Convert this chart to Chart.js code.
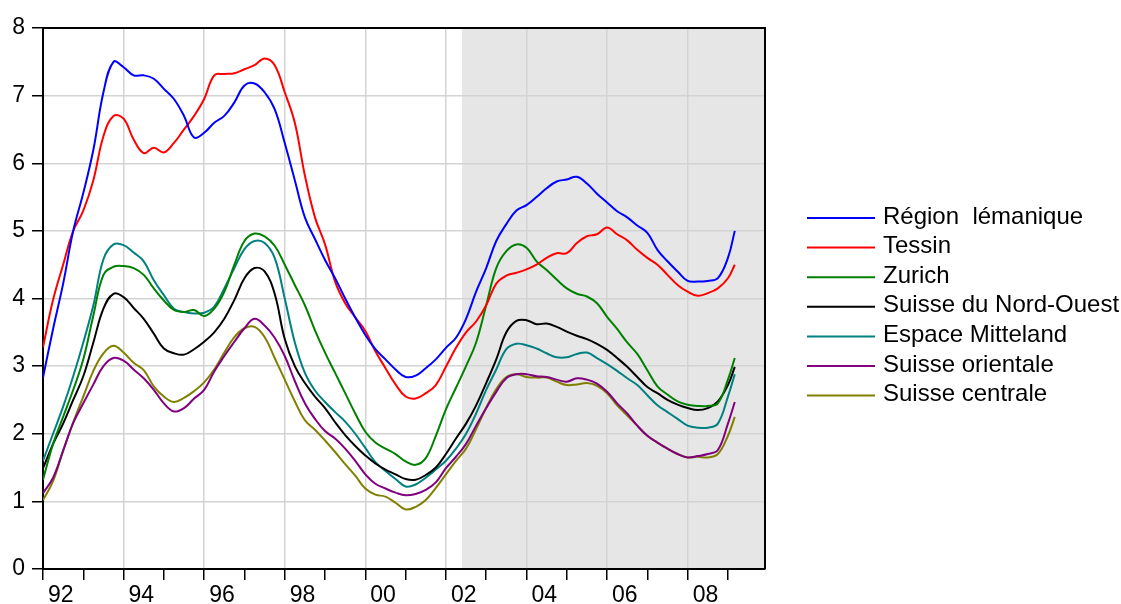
<!DOCTYPE html>
<html>
<head>
<meta charset="utf-8">
<script src="https://cdn.jsdelivr.net/npm/chart.js@4/dist/chart.umd.min.js"></script>
<style>
  html, body { margin: 0; padding: 0; background: #fff; }
  #wrap { width: 1121px; height: 604px; position: relative; }
</style>
</head>
<body>
<div id="wrap"><canvas id="chart"></canvas></div>
<script>
/* ---------- Data ---------- */
// quarterly observations, 1992Q1 .. 2009Q1, plus the last reading
const dates = Array.from({ length: 69 }, (_, i) => 1992 + i / 4).concat([2009.17]);

const regions = ["Région  lémanique", "Tessin", "Zurich", "Suisse du Nord-Ouest",
                 "Espace Mitteland", "Suisse orientale", "Suisse centrale"];
const colors = ["#0000ff", "#ff0000", "#008000", "#000000", "#008080", "#800080", "#808000"];

const lemanique = [2.83,3.55,4.22,5.0,5.56,6.2,7.05,7.5,7.42,7.3, 7.3,7.25,7.1,6.95,6.7,6.38,6.45,6.6,6.7,6.9,
  7.15,7.18,7.05,6.8,6.3,5.75,5.2,4.88,4.57,4.3, 4.0,3.72,3.46,3.25,3.1,2.95,2.84,2.86,2.97,3.1,
  3.27,3.42,3.7,4.1,4.45,4.85,5.1,5.3,5.38,5.5, 5.63,5.73,5.76,5.8,5.7,5.55,5.42,5.29,5.2,5.08,
  4.97,4.72,4.55,4.4,4.26,4.25,4.26,4.3,4.6,5.0];
const tessin = [3.28,3.98,4.5,5.0,5.3,5.75,6.4,6.7,6.66,6.35, 6.15,6.23,6.16,6.3,6.5,6.7,6.95,7.3,7.32,7.33,
  7.39,7.45,7.55,7.45,7.05,6.6,5.82,5.2,4.8,4.25, 3.93,3.72,3.52,3.22,2.97,2.73,2.55,2.52,2.6,2.72,
  2.99,3.27,3.5,3.66,3.9,4.22,4.34,4.38,4.43,4.5, 4.6,4.67,4.67,4.82,4.92,4.95,5.05,4.95,4.86,4.72,
  4.6,4.5,4.35,4.2,4.1,4.04,4.08,4.15,4.3,4.5];
const zurich = [1.32,1.85,2.25,2.65,3.1,3.75,4.35,4.47,4.48,4.45, 4.35,4.15,3.97,3.83,3.8,3.83,3.74,3.85,4.1,4.5,
  4.85,4.96,4.92,4.78,4.5,4.2,3.9,3.53,3.2,2.9, 2.6,2.3,2.03,1.87,1.78,1.7,1.59,1.54,1.64,1.97,
  2.36,2.68,3.0,3.35,3.9,4.45,4.7,4.8,4.75,4.55, 4.42,4.28,4.15,4.07,4.03,3.93,3.73,3.55,3.35,3.18,
  2.94,2.7,2.58,2.48,2.43,2.41,2.41,2.45,2.8,3.12];
const nordOuest = [1.49,1.85,2.15,2.5,2.85,3.35,3.85,4.07,4.02,3.86, 3.7,3.48,3.26,3.19,3.17,3.25,3.36,3.5,3.7,3.98,
  4.3,4.45,4.4,4.07,3.4,3.0,2.75,2.55,2.38,2.17, 1.98,1.82,1.68,1.56,1.47,1.4,1.33,1.32,1.39,1.5,
  1.7,1.93,2.15,2.42,2.75,3.1,3.5,3.67,3.68,3.62, 3.63,3.58,3.51,3.45,3.4,3.33,3.24,3.12,2.99,2.84,
  2.69,2.6,2.5,2.43,2.38,2.35,2.38,2.48,2.72,2.99];
const mitteland = [1.6,2.0,2.4,2.85,3.35,3.9,4.58,4.8,4.79,4.68, 4.55,4.27,4.05,3.85,3.8,3.78,3.79,3.88,4.15,4.45,
  4.73,4.85,4.82,4.6,4.0,3.35,2.9,2.64,2.47,2.32, 2.18,2.0,1.79,1.58,1.45,1.33,1.22,1.25,1.35,1.47,
  1.6,1.78,2.0,2.3,2.65,2.95,3.25,3.33,3.31,3.26, 3.19,3.13,3.13,3.18,3.2,3.12,3.03,2.93,2.82,2.72,
  2.57,2.42,2.32,2.22,2.12,2.09,2.09,2.15,2.55,2.88];
const orientale = [1.12,1.35,1.75,2.16,2.45,2.73,3.0,3.12,3.08,2.95, 2.82,2.65,2.45,2.33,2.38,2.52,2.65,2.92,3.15,3.36,
  3.56,3.7,3.6,3.42,3.15,2.78,2.45,2.22,2.04,1.93, 1.78,1.6,1.4,1.26,1.19,1.13,1.09,1.11,1.17,1.28,
  1.49,1.66,1.85,2.12,2.38,2.62,2.82,2.88,2.88,2.85, 2.84,2.8,2.77,2.82,2.8,2.74,2.62,2.45,2.3,2.12,
  1.97,1.87,1.78,1.7,1.65,1.67,1.7,1.76,2.15,2.47];
const centrale = [1.02,1.3,1.75,2.17,2.55,2.93,3.19,3.3,3.2,3.05, 2.94,2.7,2.55,2.47,2.53,2.63,2.76,2.95,3.2,3.43,
  3.56,3.58,3.43,3.12,2.8,2.48,2.2,2.06,1.9,1.73, 1.55,1.38,1.19,1.1,1.07,0.98,0.88,0.92,1.02,1.2,
  1.4,1.6,1.78,2.07,2.38,2.66,2.84,2.88,2.84,2.83, 2.83,2.77,2.72,2.73,2.75,2.71,2.6,2.42,2.27,2.12,
  1.97,1.87,1.78,1.7,1.65,1.66,1.65,1.7,1.97,2.25];

const series = [lemanique, tessin, zurich, nordOuest, mitteland, orientale, centrale];
const shadeFrom = 2002.4;

/* ---------- Plugins ---------- */
const FONT = "'Liberation Sans', Arial, sans-serif";

// grey band behind the grid, from shadeFrom to the right edge
const shade = {
  id: "shade",
  beforeDraw(chart) {
    const { ctx, chartArea: a, scales: { x } } = chart;
    const x0 = x.getPixelForValue(shadeFrom);
    ctx.save();
    ctx.fillStyle = "#e6e6e6";
    ctx.fillRect(x0, a.top, a.right - x0, a.bottom - a.top);
    ctx.restore();
  }
};

// top and right sides of the plot box + legend on the right
const frameAndLegend = {
  id: "frameAndLegend",
  afterDraw(chart) {
    const { ctx, chartArea: a } = chart;
    ctx.save();
    ctx.strokeStyle = "#000";
    ctx.lineWidth = 2;
    ctx.beginPath();
    ctx.moveTo(a.left, a.top);
    ctx.lineTo(a.right, a.top);
    ctx.lineTo(a.right, a.bottom);
    ctx.stroke();

    ctx.font = "24px " + FONT;
    ctx.textBaseline = "middle";
    ctx.fillStyle = "#000";
    chart.data.datasets.forEach((ds, i) => {
      const y = 218 + i * 29.6;
      ctx.strokeStyle = ds.borderColor;
      ctx.lineWidth = 2;
      ctx.beginPath();
      ctx.moveTo(807, y);
      ctx.lineTo(875, y);
      ctx.stroke();
      ctx.fillText(ds.label, 883, y - 1);
    });
    ctx.restore();
  }
};

/* ---------- Chart ---------- */
const datasets = series.map((vals, i) => ({
  label: regions[i],
  data: dates.map((d, j) => ({ x: d, y: vals[j] })),
  borderColor: colors[i],
  borderWidth: 2,
  pointRadius: 0,
  tension: 0.4,
  fill: false
}));

new Chart(document.getElementById("chart"), {
  type: "line",
  data: { datasets },
  options: {
    responsive: true,
    maintainAspectRatio: false,
    animation: false,
    devicePixelRatio: 1,
    layout: { padding: { left: 0, top: 28, right: 356, bottom: 0 } },
    plugins: { legend: { display: false }, tooltip: { enabled: false } },
    scales: {
      x: {
        type: "linear",
        min: 1992,
        max: 2009.92,
        afterFit: s => { s.height = 35; },
        border: { color: "#000", width: 2 },
        grid: {
          color: c => (c.tick && c.tick.value % 2 === 0 && c.tick.value > 1992) ? "#d3d3d3" : "rgba(0,0,0,0)",
          lineWidth: 1.5,
          tickLength: 11,
          tickColor: "#000",
          tickWidth: 1.5
        },
        ticks: {
          stepSize: 1,
          autoSkip: false,
          maxRotation: 0,
          includeBounds: false,
          align: "start",
          labelOffset: 5,
          padding: 2,
          color: "#000",
          font: { size: 23, family: FONT },
          callback: v => (Number.isInteger(v) && v % 2 === 0) ? String(v % 100).padStart(2, "0") : ""
        }
      },
      y: {
        min: 0,
        max: 8,
        afterFit: s => { s.width = 43; },
        border: { color: "#000", width: 2 },
        grid: {
          color: c => (c.tick && c.tick.value > 0 && c.tick.value < 8) ? "#d3d3d3" : "rgba(0,0,0,0)",
          lineWidth: 1.5,
          tickLength: 11,
          tickColor: "#000",
          tickWidth: 1.5
        },
        ticks: {
          stepSize: 1,
          padding: 7,
          color: "#000",
          font: { size: 23, family: FONT }
        }
      }
    }
  },
  plugins: [shade, frameAndLegend]
});
</script>
</body>
</html>
